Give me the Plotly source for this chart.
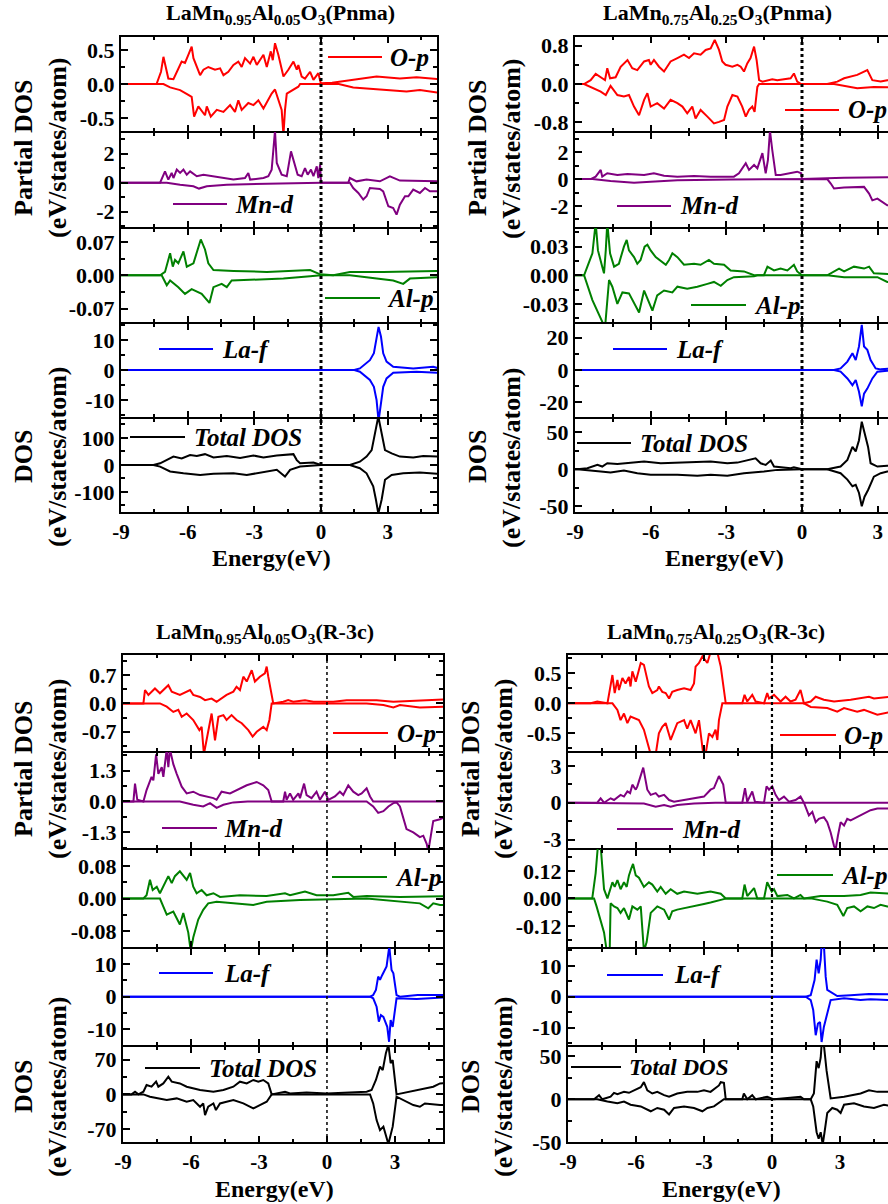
import math
import plotly.graph_objects as go

W, H = 888, 1204
FONT = "Liberation Serif"

# ============ DATA: (energy eV, DOS) ============
# ---- Panel 1: LaMn0.95Al0.05O3 (Pnma)
P1_OP_UP = [(-9,0),(-7.4,0),(-7.2,0.18),(-7.09,0.40),(-6.87,0.08),(-6.64,0.07),(-6.27,0.33),(-6.12,0.31),(-5.97,0.43),(-5.82,0.55),(-5.74,0.38),(-5.59,0.25),(-5.44,0.13),(-5.29,0.21),(-5.07,0.25),(-4.77,0.21),(-4.54,0.23),(-4.39,0.13),(-4.17,0.18),(-3.94,0.28),(-3.72,0.33),(-3.57,0.25),(-3.42,0.38),(-3.19,0.30),(-3.04,0.40),(-2.89,0.28),(-2.67,0.38),(-2.59,0.43),(-2.44,0.25),(-2.26,0.48),(-2.17,0.35),(-2.07,0.60),(-1.92,0.43),(-1.80,0.25),(-1.69,0.11),(-1.47,0.21),(-1.24,0.33),(-1.09,0.21),(-1.02,0.28),(-0.87,0.11),(-0.72,0.08),(-0.49,0.18),(-0.34,0.06),(-0.12,0.16),(-0.01,0.01),(0.5,0.02),(1.45,0.06),(2.5,0.11),(3.55,0.08),(4.3,0.10),(5.3,0.07)]
P1_OP_DN = [(-9,0),(-7.09,0),(-6.79,-0.05),(-6.34,-0.09),(-5.97,-0.16),(-5.82,-0.19),(-5.71,-0.48),(-5.52,-0.33),(-5.22,-0.46),(-5.14,-0.33),(-4.96,-0.48),(-4.69,-0.38),(-4.39,-0.41),(-4.09,-0.31),(-3.87,-0.41),(-3.72,-0.24),(-3.57,-0.38),(-3.27,-0.28),(-3.04,-0.31),(-2.82,-0.24),(-2.59,-0.36),(-2.22,-0.14),(-2.07,-0.08),(-1.92,-0.24),(-1.77,-0.38),(-1.69,-0.75),(-1.62,-0.38),(-1.54,-0.14),(-1.02,-0.04),(-0.94,0),(0.8,0),(1.45,-0.05),(2.5,-0.08),(3.85,-0.11),(4.45,-0.09),(5.3,-0.13)]
P1_MN_UP = [(-9,0),(-7.24,0),(-7.02,0.78),(-6.87,0.21),(-6.72,0.67),(-6.64,0.32),(-6.49,0.90),(-6.34,0.67),(-6.19,0.90),(-6.04,0.55),(-5.89,0.78),(-5.59,0.44),(-5.29,0.55),(-4.84,0.44),(-4.54,0.32),(-3.94,0.21),(-3.42,0.32),(-3.27,0.67),(-3.19,0.21),(-2.59,0.32),(-2.37,0.44),(-2.22,0.90),(-2.07,3.6),(-1.99,1.36),(-1.77,0.55),(-1.54,0.44),(-1.35,2.16),(-1.24,1.59),(-1.05,0.55),(-0.87,0.44),(-0.72,1.01),(-0.60,0.55),(-0.45,0.90),(-0.34,0.44),(-0.19,1.13),(-0.12,0.32),(-0.04,1.24),(0,0),(1.23,0),(1.30,0.32),(1.60,0.09),(2.05,0.21),(2.65,0.09),(3.10,0.44),(3.55,0.14),(5.3,0.09)]
P1_MN_DN = [(-9,0),(-6.94,0),(-6.34,-0.14),(-5.74,-0.25),(-5.49,-0.41),(-5.14,-0.25),(-4.24,-0.14),(-3.04,-0.09),(-1.69,-0.02),(0,0),(1.30,0),(1.45,-0.37),(1.68,-0.71),(1.90,-1.17),(2.05,-0.94),(2.20,-0.37),(2.65,-0.44),(2.80,-0.60),(3.03,-1.63),(3.25,-1.75),(3.40,-2.21),(3.55,-1.52),(3.78,-0.94),(3.93,-0.94),(4.15,-0.48),(4.45,-0.71),(4.68,-0.37),(4.90,-0.60),(5.3,-0.60)]
P1_AL_UP = [(-9,0),(-7.24,0),(-7.02,0.007),(-6.79,0.046),(-6.67,0.018),(-6.57,0.032),(-6.42,0.025),(-6.19,0.050),(-6.04,0.018),(-5.74,0.025),(-5.41,0.075),(-5.22,0.054),(-5.07,0.025),(-4.84,0.011),(-3.94,0.009),(-2.44,0.007),(-0.49,0.011),(-0.04,0.002),(0.55,0),(1.30,0.007),(2.80,0.007),(5.3,0.009)]
P1_AL_DN = [(-9,0),(-7.17,0),(-6.94,-0.021),(-6.79,-0.011),(-6.42,-0.025),(-6.12,-0.039),(-5.82,-0.029),(-5.37,-0.039),(-5.02,-0.058),(-4.84,-0.025),(-4.47,-0.018),(-4.24,-0.025),(-4.02,-0.011),(-3.04,-0.009),(-1.69,-0.007),(-0.49,-0.002),(0,0),(1.30,0),(2.05,-0.004),(3.25,-0.011),(3.70,-0.018),(4.00,-0.007),(5.3,-0.004)]
P1_LA_UP = [(-9,0),(1.5,0),(1.75,0.55),(2.20,3.3),(2.38,5.6),(2.50,11.1),(2.59,14.4),(2.70,11.1),(2.80,5.6),(2.95,2.8),(3.25,1.1),(4.15,0.55),(5.05,1.1),(5.3,0.55)]
P1_LA_DN = [(-9,0),(1.5,0),(1.75,-0.55),(2.20,-3.3),(2.38,-5.6),(2.50,-10),(2.59,-17),(2.70,-10),(2.80,-5.6),(2.95,-2.8),(3.25,-0.9),(4.3,-0.55),(5.3,-0.9)]
P1_TOT_UP = [(-9,0),(-7.54,0),(-7.24,6),(-6.94,18),(-6.64,31),(-6.27,24),(-5.89,37),(-5.59,33),(-5.22,40),(-4.84,28),(-4.24,33),(-3.64,26),(-3.04,35),(-2.59,28),(-1.99,35),(-1.24,40),(-1.09,18),(-0.94,6),(-0.34,9),(0,0),(1.30,0),(1.75,12),(2.05,31),(2.28,55),(2.43,116),(2.58,180),(2.65,150),(2.88,55),(3.18,43),(3.55,31),(4.15,28),(4.60,33),(5.3,31)]
P1_TOT_DN = [(-9,0),(-7.54,0),(-7.24,-6),(-6.79,-24),(-6.19,-31),(-5.44,-37),(-4.84,-33),(-3.94,-31),(-3.34,-37),(-2.59,-28),(-1.99,-18),(-1.62,-43),(-1.39,-18),(-0.94,-6),(-0.34,-2),(0,0),(1.30,0),(1.75,-12),(2.05,-31),(2.35,-79),(2.47,-128),(2.58,-180),(2.73,-128),(2.88,-55),(3.18,-37),(3.70,-31),(4.45,-28),(5.3,-33)]

# ---- Panel 2: LaMn0.75Al0.25O3 (Pnma)
P2_OP_UP = [(-9,0),(-8.64,0),(-8.38,0.08),(-8.18,0.21),(-7.92,0.12),(-7.81,0.08),(-7.72,0.33),(-7.61,0.12),(-7.39,0.14),(-7.19,0.36),(-6.92,0.50),(-6.73,0.33),(-6.53,0.29),(-6.26,0.47),(-6.07,0.50),(-6.00,0.40),(-5.87,0.50),(-5.67,0.36),(-5.47,0.26),(-5.21,0.47),(-4.94,0.54),(-4.68,0.61),(-4.48,0.54),(-4.28,0.64),(-4.02,0.61),(-3.82,0.71),(-3.62,0.74),(-3.46,0.92),(-3.29,0.71),(-3.16,0.47),(-3.03,0.40),(-2.76,0.36),(-2.56,0.40),(-2.43,0.36),(-2.30,0.26),(-2.17,0.43),(-2.04,0.54),(-1.90,0.78),(-1.80,0.50),(-1.70,0.08),(-1.57,0.05),(-1.37,0.08),(-1.18,0.10),(-0.98,0.08),(-0.45,0.12),(-0.32,0.22),(-0.19,0.05),(-0.03,0),(1.0,0),(1.4,0.05),(1.67,0.12),(2.19,0.19),(2.59,0.29),(2.79,0.08),(3.12,0.05),(3.38,0.08),(3.6,0.08)]
P2_OP_DN = [(-9,0),(-8.64,0),(-7.98,-0.16),(-7.78,-0.23),(-7.59,-0.04),(-7.32,-0.23),(-7.06,-0.26),(-6.86,-0.23),(-6.66,-0.47),(-6.46,-0.65),(-6.26,-0.33),(-6.13,-0.19),(-6.00,-0.47),(-5.74,-0.40),(-5.47,-0.51),(-5.21,-0.33),(-4.94,-0.40),(-4.74,-0.47),(-4.55,-0.61),(-4.35,-0.47),(-4.22,-0.72),(-4.02,-0.54),(-3.75,-0.68),(-3.49,-0.82),(-3.29,-0.79),(-3.09,-0.75),(-2.96,-0.47),(-2.76,-0.23),(-2.56,-0.26),(-2.37,-0.47),(-2.23,-0.68),(-2.10,-0.54),(-1.97,-0.47),(-1.88,-0.58),(-1.77,-0.06),(-1.70,0),(1.27,0),(1.67,-0.04),(2.19,-0.09),(2.85,-0.06),(3.38,-0.07),(3.6,-0.07)]
P2_MN_UP = [(-9,0),(-8.38,0),(-8.18,0.18),(-7.98,0.68),(-7.92,0.18),(-7.72,0.43),(-7.32,0.30),(-6.92,0.38),(-6.26,0.30),(-5.87,0.43),(-5.47,0.25),(-4.94,0.18),(-4.28,0.23),(-3.62,0.18),(-2.70,0.18),(-2.50,0.43),(-2.23,1.18),(-2.10,0.68),(-1.90,1.05),(-1.77,0.80),(-1.57,1.93),(-1.44,0.43),(-1.35,1.43),(-1.27,3.6),(-1.18,2.18),(-1.04,0.30),(-0.85,0.30),(-0.45,0.43),(-0.19,0.55),(-0.03,0.43),(0,0),(1.67,0.10),(3.38,0.13),(3.6,0.13)]
P2_MN_DN = [(-9,0),(-8.31,0),(-7.59,-0.15),(-6.66,-0.28),(-6.00,-0.20),(-4.94,-0.08),(-2.83,-0.03),(0,0),(1.0,0),(1.14,-0.33),(1.27,-0.70),(1.67,-0.63),(2.46,-0.58),(2.66,-1.08),(2.79,-1.58),(2.99,-1.45),(3.18,-1.70),(3.38,-1.95),(3.6,-1.95)]
P2_AL_UP = [(-9,0),(-8.64,0),(-8.51,0.009),(-8.31,0.023),(-8.18,0.055),(-8.09,0.026),(-7.92,0.009),(-7.85,0.002),(-7.78,0.026),(-7.72,0.055),(-7.61,0.023),(-7.45,0.009),(-7.26,0.012),(-7.06,0.030),(-6.95,0.037),(-6.86,0.026),(-6.66,0.019),(-6.53,0.012),(-6.40,0.016),(-6.24,0.030),(-6.13,0.032),(-6.00,0.026),(-5.80,0.019),(-5.54,0.014),(-5.40,0.011),(-5.27,0.016),(-5.14,0.023),(-4.94,0.019),(-4.68,0.011),(-4.28,0.012),(-4.02,0.011),(-3.69,0.016),(-3.49,0.012),(-3.09,0.011),(-2.83,0.005),(-2.30,0.004),(-1.90,0),(-1.51,0),(-1.37,0.009),(-1.11,0.005),(-0.85,0.007),(-0.58,0.005),(-0.32,0.011),(-0.19,0.004),(0,0),(1.0,0),(1.47,0.007),(1.67,0.004),(2.06,0.009),(2.46,0.007),(2.66,0.009),(2.85,0.002),(3.38,0.001),(3.6,0.001)]
P2_AL_DN = [(-9,0),(-8.64,0),(-8.31,-0.026),(-7.81,-0.055),(-7.65,-0.005),(-7.52,-0.012),(-7.32,-0.030),(-7.12,-0.018),(-6.86,-0.019),(-6.46,-0.039),(-6.26,-0.016),(-5.93,-0.037),(-5.74,-0.021),(-5.47,-0.016),(-5.14,-0.018),(-4.94,-0.012),(-4.55,-0.014),(-4.15,-0.012),(-3.75,-0.009),(-3.49,-0.007),(-3.22,-0.011),(-2.96,-0.005),(-2.70,-0.002),(-1.90,-0.001),(-1.77,0),(1.0,0),(1.67,-0.002),(2.99,-0.002),(3.38,-0.007),(3.6,-0.007)]
P2_LA_UP = [(-9,0),(1.27,0),(1.53,1.0),(1.80,5.2),(2.0,10.4),(2.13,6.2),(2.26,14.6),(2.37,28),(2.46,14.6),(2.59,12.5),(2.72,6.2),(2.92,1.0),(3.12,0.4),(3.38,1.0),(3.6,1.0)]
P2_LA_DN = [(-9,0),(1.27,0),(1.53,-1.0),(1.80,-5.2),(2.0,-9.4),(2.13,-6.2),(2.26,-13.5),(2.37,-22.5),(2.46,-14.6),(2.59,-11.5),(2.79,-5.2),(2.99,-1.0),(3.38,-0.4),(3.6,-0.4)]
P2_TOT_UP = [(-9,0),(-8.91,0),(-8.51,1.3),(-8.11,5.8),(-7.92,3.6),(-7.72,8.0),(-7.32,7.1),(-6.79,8.9),(-6.26,10.3),(-5.60,8.0),(-4.94,8.9),(-3.62,10.3),(-2.96,8.0),(-2.56,8.9),(-1.84,14.7),(-1.64,8.0),(-1.44,5.8),(-1.24,11.6),(-1.11,3.6),(-0.45,1.3),(-0.32,2.7),(0,0),(1.0,0),(1.53,3.6),(1.80,12.5),(2.0,30),(2.13,24),(2.26,39),(2.37,64),(2.48,48),(2.62,30),(2.72,8),(2.99,3.6),(3.38,4.5),(3.6,4.5)]
P2_TOT_DN = [(-9,0),(-8.91,0),(-7.98,-3.1),(-7.59,-4.5),(-7.06,-1.8),(-6.53,-5.4),(-6.00,-7.6),(-4.94,-7.6),(-4.15,-8.9),(-3.62,-7.6),(-2.96,-8.9),(-2.30,-5.4),(-1.51,-3.1),(-0.98,-0.9),(0,0),(1.0,0),(1.53,-5.4),(1.80,-14),(2.0,-23),(2.13,-21),(2.26,-32),(2.37,-50),(2.48,-37),(2.62,-28),(2.85,-10),(3.12,-5.4),(3.38,-3.1),(3.6,-3.1)]

# ---- Panel 3: LaMn0.95Al0.05O3 (R-3c)
P3_OP_UP = [(-9,0),(-8.10,0),(-8.03,0.33),(-7.88,0.21),(-7.59,0.37),(-7.37,0.25),(-7.0,0.45),(-6.85,0.29),(-6.49,0.21),(-6.04,0.33),(-5.90,0.21),(-5.60,0.16),(-5.38,0.08),(-5.09,0.12),(-4.87,0.04),(-4.65,0.12),(-4.43,0.21),(-4.13,0.29),(-3.99,0.41),(-3.84,0.33),(-3.69,0.66),(-3.54,0.54),(-3.32,0.82),(-3.18,0.54),(-2.96,0.66),(-2.74,0.74),(-2.66,0.91),(-2.59,0.66),(-2.47,0.33),(-2.37,0),(-1.93,0.04),(-1.71,0.08),(-1.49,0.04),(-0.97,0.08),(-0.60,0.04),(0.28,0.04),(0.87,0.08),(1.68,0.08),(2.19,0.08),(2.93,0.04),(5.3,0.10)]
P3_OP_DN = [(-9,0),(-7.37,0),(-7.07,-0.08),(-6.78,-0.21),(-6.56,-0.16),(-6.41,-0.33),(-6.19,-0.25),(-5.90,-0.41),(-5.63,-0.66),(-5.53,-0.58),(-5.43,-1.25),(-5.24,-0.66),(-5.09,-0.25),(-4.94,-0.91),(-4.79,-0.33),(-4.57,-0.29),(-4.43,-0.41),(-4.21,-0.29),(-3.99,-0.41),(-3.76,-0.49),(-3.47,-0.66),(-3.28,-0.82),(-3.10,-0.70),(-2.81,-0.58),(-2.66,-0.66),(-2.54,-0.41),(-2.44,0),(1.75,0),(2.49,-0.04),(2.93,-0.10),(3.22,-0.04),(4.10,-0.10),(5.3,-0.08)]
P3_MN_UP = [(-9,0),(-8.54,0),(-8.47,0.75),(-8.37,0.07),(-8.10,0),(-7.96,0.48),(-7.74,1.03),(-7.66,0.89),(-7.54,1.98),(-7.44,1.16),(-7.29,1.44),(-7.22,1.03),(-7.07,2.2),(-7.0,1.44),(-6.93,2.2),(-6.78,1.57),(-6.63,1.16),(-6.41,0.62),(-6.19,0.34),(-5.90,0.41),(-5.60,0.27),(-5.31,0.21),(-5.01,0.14),(-4.87,0.07),(-4.65,0.41),(-4.28,0.34),(-3.84,0.55),(-3.54,0.68),(-3.10,0.82),(-2.81,0.68),(-2.59,0.48),(-2.44,0),(-1.93,0),(-1.85,0.41),(-1.78,0.07),(-1.63,0.34),(-1.49,0.07),(-1.26,0.34),(-1.19,0.14),(-1.01,0.75),(-0.90,0.27),(-0.68,0.14),(-0.46,0.41),(-0.31,0.07),(-0.09,0.41),(0.06,0.07),(0.35,0.21),(0.57,0.41),(0.72,0.27),(0.94,0.68),(1.16,0.41),(1.38,0.27),(1.53,0.34),(1.75,0.55),(1.90,0.21),(2.04,0),(5.3,0)]
P3_MN_DN = [(-9,0),(-6.49,0),(-5.90,-0.14),(-5.46,-0.21),(-5.16,-0.07),(-4.87,-0.27),(-4.57,-0.14),(-4.13,-0.04),(-3.5,0),(1.75,0),(2.04,-0.21),(2.26,-0.48),(2.49,-0.41),(2.71,-0.21),(2.93,-0.07),(3.07,-0.04),(3.22,-0.21),(3.37,-0.75),(3.51,-1.16),(3.81,-1.30),(4.10,-1.50),(4.25,-1.44),(4.40,-1.78),(4.47,-2.1),(4.57,-1.57),(4.69,-0.82),(4.99,-0.75),(5.3,-0.62)]
P3_AL_UP = [(-9,0),(-8.10,0),(-7.96,0.008),(-7.81,0.046),(-7.69,0.021),(-7.51,0.029),(-7.37,0.013),(-7.22,0.029),(-7.0,0.055),(-6.85,0.038),(-6.71,0.055),(-6.49,0.067),(-6.34,0.055),(-6.19,0.046),(-6.04,0.063),(-5.90,0.029),(-5.75,0.013),(-5.53,0.021),(-5.31,0.008),(-5.01,0.013),(-4.72,0.004),(-3.84,0.008),(-2.66,0.006),(-1.85,0.013),(-1.63,0.008),(-0.97,0.017),(-0.46,0.008),(0.28,0.008),(0.94,0.014),(1.16,0.004),(1.75,0.006),(3.22,0.004),(5.3,0.006)]
P3_AL_DN = [(-9,0),(-7.37,0),(-7.22,-0.020),(-7.07,-0.040),(-6.93,-0.036),(-6.78,-0.032),(-6.49,-0.064),(-6.34,-0.036),(-6.12,-0.084),(-6.01,-0.130),(-5.90,-0.096),(-5.68,-0.052),(-5.46,-0.028),(-5.24,-0.012),(-4.87,-0.008),(-4.13,-0.011),(-3.25,-0.016),(-2.66,-0.008),(-1.19,-0.004),(1.75,0),(4.10,-0.012),(4.47,-0.024),(4.69,-0.012),(4.99,-0.016),(5.3,-0.016)]
P3_LA_UP = [(-9,0),(1.90,0),(2.04,0.5),(2.16,2.1),(2.26,6.2),(2.34,5.2),(2.44,6.7),(2.63,9.3),(2.75,15.5),(2.85,8.2),(2.93,7.2),(3.0,3.1),(3.07,0.5),(3.22,0),(4.0,0.5),(5.3,0.5)]
P3_LA_DN = [(-9,0),(1.90,0),(2.04,-0.5),(2.19,-3.1),(2.29,-7.7),(2.38,-5.7),(2.49,-6.2),(2.66,-9.3),(2.74,-13.9),(2.81,-7.2),(2.90,-9.3),(3.0,-3.1),(3.07,-0.5),(3.96,-0.7),(5.3,-0.2)]
P3_TOT_UP = [(-9,0),(-8.62,0),(-8.47,5.4),(-8.32,0),(-8.10,5.4),(-7.96,19),(-7.74,15.5),(-7.54,25.6),(-7.44,15.5),(-7.22,22),(-7.0,35.7),(-6.85,25.6),(-6.49,22),(-6.19,15.5),(-5.60,8.7),(-5.01,5.4),(-4.57,8.7),(-4.13,15.5),(-3.84,25.6),(-3.54,22),(-3.25,29),(-3.03,25.6),(-2.81,29),(-2.59,22),(-2.44,0),(-1.85,5.4),(-1.63,2),(-0.90,4),(0.0,2),(1.01,3.4),(1.75,5.4),(1.97,8.7),(2.16,29),(2.34,56),(2.46,49),(2.60,83),(2.71,100),(2.81,63),(2.90,69),(3.07,0),(3.96,8.7),(4.69,15.5),(4.99,22),(5.3,23.5)]
P3_TOT_DN = [(-9,0),(-8.10,0),(-7.81,-4.7),(-7.07,-11.4),(-6.63,-8.1),(-6.19,-14.8),(-5.90,-11.4),(-5.60,-24.9),(-5.46,-18.2),(-5.38,-41.7),(-5.24,-24.9),(-5.01,-18.2),(-4.90,-31.6),(-4.72,-18.2),(-4.43,-14.8),(-4.13,-11.4),(-3.69,-18.2),(-3.25,-28.3),(-2.96,-21.5),(-2.66,-14.8),(-2.44,0),(1.90,0),(2.04,-18.2),(2.19,-51.8),(2.34,-72),(2.49,-65),(2.71,-100),(2.81,-79),(2.90,-65),(3.07,-4.7),(3.37,-11.4),(3.81,-21.5),(4.10,-24.9),(4.32,-18.2),(4.99,-21.5),(5.3,-21.5)]

# ---- Panel 4: LaMn0.75Al0.25O3 (R-3c)
P4_OP_UP = [(-9,0),(-8.0,0),(-7.71,0.03),(-7.26,0),(-7.04,0.47),(-6.94,0.17),(-6.82,0.39),(-6.75,0.22),(-6.60,0.42),(-6.46,0.33),(-6.31,0.44),(-6.24,0.28),(-6.16,0.53),(-6.01,0.36),(-5.79,0.67),(-5.65,0.64),(-5.43,0.28),(-5.28,0.17),(-5.06,0.22),(-4.99,0.28),(-4.84,0.19),(-4.69,0.17),(-4.54,0.08),(-4.40,0.19),(-4.18,0.22),(-3.88,0.25),(-3.59,0.22),(-3.44,0.33),(-3.37,0.61),(-3.22,0.67),(-3.07,0.78),(-2.93,0.72),(-2.85,0.67),(-2.71,0.85),(-2.41,0.85),(-2.26,0.61),(-2.04,0),(-1.31,0),(-1.21,0.14),(-1.09,0.03),(-0.87,0.14),(-0.72,0.03),(-0.35,0),(-0.21,0.17),(-0.13,0.08),(0.09,0.14),(0.38,0.03),(0.60,0.11),(0.82,0.03),(1.04,0.06),(1.26,0.22),(1.41,0),(1.71,0.03),(1.93,0.11),(2.29,0.06),(2.74,0.03),(3.47,0.06),(4.28,0.11),(4.50,0.08),(5.3,0.11)]
P4_OP_DN = [(-9,0),(-7.04,0),(-6.82,-0.11),(-6.68,-0.28),(-6.53,-0.17),(-6.38,-0.33),(-6.24,-0.22),(-5.87,-0.28),(-5.65,-0.44),(-5.35,-0.85),(-5.13,-0.85),(-4.99,-0.50),(-4.84,-0.39),(-4.69,-0.33),(-4.47,-0.61),(-4.18,-0.33),(-3.88,-0.28),(-3.74,-0.42),(-3.59,-0.28),(-3.37,-0.50),(-3.22,-0.28),(-3.03,-0.85),(-2.93,-0.85),(-2.78,-0.50),(-2.63,-0.56),(-2.49,-0.44),(-2.41,-0.61),(-2.34,-0.28),(-2.19,0),(1.41,0),(1.71,-0.06),(2.44,-0.08),(2.88,-0.14),(3.18,-0.08),(3.76,-0.14),(4.06,-0.11),(4.65,-0.19),(5.3,-0.14)]
P4_MN_UP = [(-9,0),(-7.71,0),(-7.56,0.36),(-7.41,0),(-7.12,0.36),(-6.97,0.22),(-6.68,0.64),(-6.53,0.50),(-6.38,0.92),(-6.26,0.78),(-6.16,1.47),(-6.01,1.06),(-5.94,1.33),(-5.68,2.86),(-5.50,1.06),(-5.35,0.64),(-5.13,0.78),(-4.99,0.50),(-4.76,0.64),(-4.54,0.22),(-4.32,0.08),(-3.88,0.22),(-3.29,0.36),(-3.0,0.50),(-2.71,1.06),(-2.56,1.19),(-2.34,2.17),(-2.24,1.75),(-2.15,1.47),(-2.04,0),(-1.31,0),(-1.19,1.19),(-1.09,0.08),(-0.87,0.92),(-0.75,0.08),(-0.35,0),(-0.24,1.33),(-0.13,1.06),(0.01,1.33),(0.16,0.64),(0.31,0.22),(0.53,0.50),(0.75,0.08),(1.04,0.22),(1.26,0.50),(1.41,0),(5.3,0)]
P4_MN_DN = [(-9,0),(-6.24,0),(-5.65,-0.06),(-5.13,-0.33),(-4.76,-0.19),(-4.47,-0.33),(-4.18,-0.19),(-3.44,-0.06),(-2.5,0),(1.41,0),(1.63,-1.03),(1.78,-0.75),(1.93,-1.58),(2.07,-1.31),(2.29,-1.17),(2.44,-1.58),(2.59,-2.42),(2.74,-3.53),(2.81,-3.81),(2.91,-2.69),(3.03,-1.58),(3.18,-1.86),(3.32,-1.31),(3.47,-1.44),(3.76,-1.17),(4.06,-0.89),(4.35,-0.61),(4.65,-0.47),(5.3,-0.47)]
P4_AL_UP = [(-9,0),(-7.93,0),(-7.78,0.11),(-7.68,0.23),(-7.56,0.23),(-7.41,0.04),(-7.26,0),(-7.12,0.04),(-7.04,0.07),(-6.94,0.05),(-6.82,0.08),(-6.68,0.04),(-6.53,0.07),(-6.41,0.05),(-6.31,0.10),(-6.21,0.13),(-6.13,0.15),(-6.01,0.10),(-5.87,0.09),(-5.65,0.05),(-5.43,0.07),(-5.28,0.06),(-5.06,0.03),(-4.91,0.05),(-4.69,0.02),(-4.47,0.04),(-4.18,0.02),(-3.88,0.03),(-3.29,0.02),(-2.71,0.03),(-2.26,0.02),(-2.04,0),(-1.31,0),(-1.21,0.06),(-1.09,0.01),(-0.79,0.045),(-0.65,0),(-0.35,0),(-0.21,0.07),(-0.01,0.03),(0.09,0.04),(0.24,0.01),(0.68,0.015),(0.97,0),(1.26,0.015),(1.41,0),(2.15,0.01),(3.18,0.01),(3.91,0.015),(4.35,0.026),(5.3,0.02)]
P4_AL_DN = [(-9,0),(-7.85,0),(-7.74,-0.035),(-7.56,-0.092),(-7.41,-0.148),(-7.29,-0.23),(-7.16,-0.23),(-7.12,-0.021),(-6.97,-0.035),(-6.82,-0.042),(-6.68,-0.063),(-6.53,-0.042),(-6.31,-0.092),(-6.16,-0.035),(-5.94,-0.049),(-5.79,-0.035),(-5.65,-0.23),(-5.53,-0.19),(-5.35,-0.063),(-5.06,-0.035),(-4.76,-0.049),(-4.54,-0.092),(-4.40,-0.056),(-4.18,-0.049),(-3.88,-0.042),(-3.59,-0.035),(-3.29,-0.028),(-3.0,-0.024),(-2.71,-0.018),(-2.41,-0.011),(-2.12,-0.004),(-2.0,0),(1.71,0),(2.44,-0.014),(2.88,-0.028),(3.15,-0.077),(3.32,-0.042),(3.62,-0.035),(3.91,-0.056),(4.21,-0.035),(4.50,-0.042),(4.79,-0.028),(5.09,-0.035),(5.3,-0.035)]
P4_LA_UP = [(-9,0),(1.49,0),(1.71,0.5),(1.88,5.4),(1.97,12),(2.06,7.6),(2.15,12),(2.19,17),(2.29,17),(2.37,6.5),(2.44,2.2),(2.66,1.1),(2.88,0.2),(3.47,0.5),(4.28,0.9),(5.3,0.8)]
P4_LA_DN = [(-9,0),(1.49,0),(1.71,-1.1),(1.82,-4.3),(1.93,-12.5),(2.03,-8.7),(2.12,-8.2),(2.19,-14.7),(2.29,-9.8),(2.40,-6.5),(2.59,-1.1),(3.18,-0.5),(3.91,-1.1),(4.35,-0.8),(5.3,-1.1)]
P4_TOT_UP = [(-9,0),(-7.85,0),(-7.63,4.8),(-7.49,0),(-7.12,3),(-6.97,7.5),(-6.82,6),(-6.53,8.6),(-6.31,7.5),(-5.94,12.3),(-5.79,14),(-5.65,19.8),(-5.50,10.4),(-5.28,6.7),(-5.06,8.6),(-4.76,4.8),(-4.54,3),(-4.18,6.7),(-3.74,8.6),(-3.29,8.6),(-3.0,10.4),(-2.71,8.6),(-2.34,16),(-2.26,19.8),(-2.12,19),(-2.04,0),(-1.31,0),(-1.24,6.7),(-1.09,0),(-0.87,4.8),(-0.72,0),(-0.21,3),(0.09,0),(1.26,3),(1.41,0),(1.71,0),(1.85,6.7),(1.97,44),(2.06,36),(2.15,48),(2.19,63),(2.29,63),(2.41,33),(2.59,1),(3.18,3),(3.91,6.7),(4.28,10.4),(4.65,8.6),(5.3,8.6)]
P4_TOT_DN = [(-9,0),(-7.71,0),(-7.26,-2.6),(-6.82,-4.5),(-6.53,-2.6),(-6.24,-6.3),(-5.79,-8.2),(-5.35,-13.8),(-5.06,-10),(-4.76,-12),(-4.54,-17.5),(-4.32,-10),(-3.88,-8.2),(-3.44,-10),(-3.07,-13.8),(-2.85,-10),(-2.56,-8.2),(-2.34,-4.5),(-2.12,0),(1.71,0),(1.82,-8.2),(1.97,-38),(2.06,-45.5),(2.15,-38),(2.24,-52),(2.32,-38),(2.44,-15.7),(2.66,-10),(2.88,-12),(3.03,-15.7),(3.18,-6.3),(3.62,-4.5),(4.06,-8.2),(4.50,-10),(4.94,-6.3),(5.3,-8.2)]

# ---- labels, ticks
SERIES_LABELS = ["O-p", "Mn-d", "Al-p", "La-f", "Total DOS"]
SERIES_COLORS = ["#ff0000", "#800080", "#008000", "#0000ff", "#000000"]
TITLES = ["LaMn<sub>0.95</sub>Al<sub>0.05</sub>O<sub>3</sub>(Pnma)",
          "LaMn<sub>0.75</sub>Al<sub>0.25</sub>O<sub>3</sub>(Pnma)",
          "LaMn<sub>0.95</sub>Al<sub>0.05</sub>O<sub>3</sub>(R-3c)",
          "LaMn<sub>0.75</sub>Al<sub>0.25</sub>O<sub>3</sub>(R-3c)"]
X_TICKS = [-9, -6, -3, 0, 3]
X_TICK_TEXT = ["-9", "-6", "-3", "0", "3"]
X_LABEL = "Energy(eV)"

P1_YTICKS = [[-0.5, 0, 0.5], [-2, 0, 2], [-0.07, 0, 0.07], [-10, 0, 10], [-100, 0, 100]]
P1_YTEXT = [["-0.5", "0.0", "0.5"], ["-2", "0", "2"], ["-0.07", "0.00", "0.07"], ["-10", "0", "10"], ["-100", "0", "100"]]
P2_YTICKS = [[-0.8, 0, 0.8], [-2, 0, 2], [-0.03, 0, 0.03], [-20, 0, 20], [-50, 0, 50]]
P2_YTEXT = [["-0.8", "0.0", "0.8"], ["-2", "0", "2"], ["-0.03", "0.00", "0.03"], ["-20", "0", "20"], ["-50", "0", "50"]]
P3_YTICKS = [[-0.7, 0, 0.7], [-1.3, 0, 1.3], [-0.08, 0, 0.08], [-10, 0, 10], [-70, 0, 70]]
P3_YTEXT = [["-0.7", "0.0", "0.7"], ["-1.3", "0.0", "1.3"], ["-0.08", "0.00", "0.08"], ["-10", "0", "10"], ["-70", "0", "70"]]
P4_YTICKS = [[-0.5, 0, 0.5], [-3, 0, 3], [-0.12, 0, 0.12], [-10, 0, 10], [-50, 0, 50]]
P4_YTEXT = [["-0.5", "0.0", "0.5"], ["-3", "0", "3"], ["-0.12", "0.00", "0.12"], ["-10", "0", "10"], ["-50", "0", "50"]]

# ============ LAYOUT (pixel geometry / styling) ============
PANELS = [
    dict(curves=[(P1_OP_UP, P1_OP_DN), (P1_MN_UP, P1_MN_DN), (P1_AL_UP, P1_AL_DN), (P1_LA_UP, P1_LA_DN), (P1_TOT_UP, P1_TOT_DN)],
         yticks=P1_YTICKS, ytext=P1_YTEXT,
         yranges=[(-0.706, 0.706), (-3.1, 3.5), (-0.1, 0.1), (-16, 15.7), (-178, 174)],
         left=121, right=437, xmax=5.22, bounds=[36, 132, 227.5, 323, 418, 513], mirror=True, zero_w=3,
         legend=[(328, 382, 57, 388), (173, 227, 204, 233), (325, 380, 298, 385), (159, 213, 349, 220), (130, 185, 437, 192)],
         leg_size=[25, 25, 25, 25, 25],
         ytitle=(23, 57, 148, 457), title=(280, 14), xlabel=(271, 558)),
    dict(curves=[(P2_OP_UP, P2_OP_DN), (P2_MN_UP, P2_MN_DN), (P2_AL_UP, P2_AL_DN), (P2_LA_UP, P2_LA_DN), (P2_TOT_UP, P2_TOT_DN)],
         yticks=P2_YTICKS, ytext=P2_YTEXT,
         yranges=[(-1.0, 1.0), (-3.6, 3.5), (-0.05, 0.05), (-29.7, 29.1), (-59, 69)],
         left=575, right=888, xmax=3.41, bounds=[36, 132, 227.5, 323, 418, 513], mirror=False, zero_w=3,
         legend=[(785, 839, 110, 846), (617, 671, 206, 678), (691, 746, 305, 752), (613, 667, 349, 674), (577, 631, 443, 638)],
         leg_size=[25, 25, 25, 25, 25],
         ytitle=(477, 511, 148, 457), title=(717, 14), xlabel=(724, 558)),
    dict(curves=[(P3_OP_UP, P3_OP_DN), (P3_MN_UP, P3_MN_DN), (P3_AL_UP, P3_AL_DN), (P3_LA_UP, P3_LA_DN), (P3_TOT_UP, P3_TOT_DN)],
         yticks=P3_YTICKS, ytext=P3_YTEXT,
         yranges=[(-1.2, 1.22), (-2.0, 2.08), (-0.122, 0.122), (-15.2, 15), (-98, 97.5)],
         left=123, right=443, xmax=5.12, bounds=[654, 752, 849, 948, 1046, 1143], mirror=True, zero_w=1.5,
         legend=[(333, 388, 733, 395), (162, 217, 828, 222), (332, 387, 877, 393), (159, 213, 973, 222), (145, 200, 1068, 207)],
         leg_size=[25, 25, 25, 25, 25],
         ytitle=(23, 57, 769, 1087), title=(265, 633), xlabel=(274, 1189)),
    dict(curves=[(P4_OP_UP, P4_OP_DN), (P4_MN_UP, P4_MN_DN), (P4_AL_UP, P4_AL_DN), (P4_LA_UP, P4_LA_DN), (P4_TOT_UP, P4_TOT_DN)],
         yticks=P4_YTICKS, ytext=P4_YTEXT,
         yranges=[(-0.81, 0.82), (-3.77, 4.13), (-0.216, 0.215), (-16, 15.8), (-50.4, 61.5)],
         left=568, right=888, xmax=5.12, bounds=[654, 752, 849, 948, 1046, 1143], mirror=False, zero_w=2.2,
         legend=[(780, 836, 735, 842), (617, 673, 829, 680), (777, 833, 875, 839), (607, 663, 975, 672), (571, 621, 1067, 627)],
         leg_size=[25, 25, 25, 25, 23],
         ytitle=(470, 503, 769, 1087), title=(716, 633), xlabel=(721, 1189)),
]

TICKFONT = dict(family=FONT, size=22, color="black", weight="bold")
XTICKFONT = dict(family=FONT, size=21, color="black", weight="bold")


def px(x):
    return x / W


def py(y):
    return 1 - y / H


def minor_vals(lo, hi, step, majors):
    out = []
    k0, k1 = math.ceil(lo / step - 1e-9), math.floor(hi / step + 1e-9)
    for k in range(k0, k1 + 1):
        v = round(k * step, 6)
        if all(abs(v - m) > 1e-9 for m in majors):
            out.append(v)
    return out


fig = go.Figure()
layout = {}
shapes = []
annotations = []
n = 0
for pi, P in enumerate(PANELS):
    b = P["bounds"]
    for si in range(5):
        n += 1
        xa = "x" if n == 1 else f"x{n}"
        ya = "y" if n == 1 else f"y{n}"
        xkey = "xaxis" if n == 1 else f"xaxis{n}"
        ykey = "yaxis" if n == 1 else f"yaxis{n}"
        up, dn = P["curves"][si]
        col = SERIES_COLORS[si]
        for pts in (up, dn):
            fig.add_trace(go.Scatter(x=[p[0] for p in pts], y=[p[1] for p in pts], mode="lines",
                                     line=dict(color=col, width=2), xaxis=xa, yaxis=ya,
                                     showlegend=False, hoverinfo="skip"))
        bottom = si == 4
        layout[xkey] = dict(domain=[px(P["left"]), px(P["right"])], range=[-9, P["xmax"]], anchor=ya,
                            tickmode="array", tickvals=X_TICKS, ticktext=X_TICK_TEXT,
                            showticklabels=bottom, ticks="inside", ticklen=7, tickwidth=2,
                            tickcolor="black", showline=True, linewidth=1, linecolor="black",
                            mirror="ticks", showgrid=False, zeroline=False, tickfont=XTICKFONT,
                            automargin=False,
                            minor=dict(tickmode="array", tickvals=[-7.5, -4.5, -1.5, 1.5, 4.5],
                                       ticks="inside", ticklen=4, tickwidth=2, tickcolor="black",
                                       showgrid=False))
        lo, hi = P["yranges"][si]
        majors = P["yticks"][si]
        step = (majors[2] - majors[1]) / 2
        layout[ykey] = dict(domain=[py(b[si + 1]), py(b[si])], range=[lo, hi], anchor=xa,
                            tickmode="array", tickvals=majors, ticktext=P["ytext"][si],
                            ticks="inside", ticklen=7, tickwidth=2, tickcolor="black",
                            showline=True, linewidth=2, linecolor="black",
                            mirror="ticks" if P["mirror"] else False,
                            showgrid=False, zeroline=False, tickfont=TICKFONT, automargin=False,
                            minor=dict(tickmode="array", tickvals=minor_vals(lo, hi, step, majors),
                                       ticks="inside", ticklen=4, tickwidth=2, tickcolor="black",
                                       showgrid=False))
        # legend sample line + label
        x0, x1, yl, xt = P["legend"][si]
        shapes.append(dict(type="line", xref="paper", yref="paper", x0=px(x0), x1=px(x1),
                           y0=py(yl), y1=py(yl), line=dict(color=col, width=2)))
        annotations.append(dict(x=px(xt), y=py(yl), xref="paper", yref="paper", xanchor="left",
                                yanchor="middle", showarrow=False,
                                text=f"<b><i>{SERIES_LABELS[si]}</i></b>",
                                font=dict(family=FONT, size=P["leg_size"][si], color="black")))
    # outer top / bottom frame lines of the panel
    for yy in (b[0], b[5]):
        shapes.append(dict(type="line", xref="paper", yref="paper", x0=px(P["left"] - 1), x1=px(P["right"] + 1),
                           y0=py(yy), y1=py(yy), line=dict(color="black", width=2)))
    # dotted Fermi level line across the panel
    xb = "x" if n == 5 else f"x{n}"
    shapes.append(dict(type="line", xref=xb, yref="paper", x0=0, x1=0, y0=py(b[5]), y1=py(b[0]),
                       line=dict(color="black", width=P["zero_w"], dash="dot")))
    # titles and axis labels
    tx, ty = P["title"]
    annotations.append(dict(x=px(tx), y=py(ty), xref="paper", yref="paper", xanchor="center",
                            yanchor="middle", showarrow=False, text=f"<b>{TITLES[pi]}</b>",
                            font=dict(family=FONT, size=22, color="black")))
    lx, ly = P["xlabel"]
    annotations.append(dict(x=px(lx), y=py(ly), xref="paper", yref="paper", xanchor="center",
                            yanchor="middle", showarrow=False, text=f"<b>{X_LABEL}</b>",
                            font=dict(family=FONT, size=24, color="black")))
    a1, a2, yp, yd = P["ytitle"]
    for xx, yy, txt in ((a1, yp, "Partial DOS"), (a2, yp, "(eV/states/atom)"),
                        (a1, yd, "DOS"), (a2, yd, "(eV/states/atom)")):
        annotations.append(dict(x=px(xx), y=py(yy), xref="paper", yref="paper", xanchor="center",
                                yanchor="middle", showarrow=False, textangle=-90,
                                text=f"<b>{txt}</b>",
                                font=dict(family=FONT, size=26, color="black")))

fig.update_layout(width=W, height=H, margin=dict(l=0, r=0, t=0, b=0), showlegend=False,
                  paper_bgcolor="white", plot_bgcolor="white", shapes=shapes,
                  annotations=annotations, **layout)

fig.write_html("out.html", config={"displayModeBar": False},
               post_script="document.body.style.margin='0';document.body.style.overflow='hidden';")
